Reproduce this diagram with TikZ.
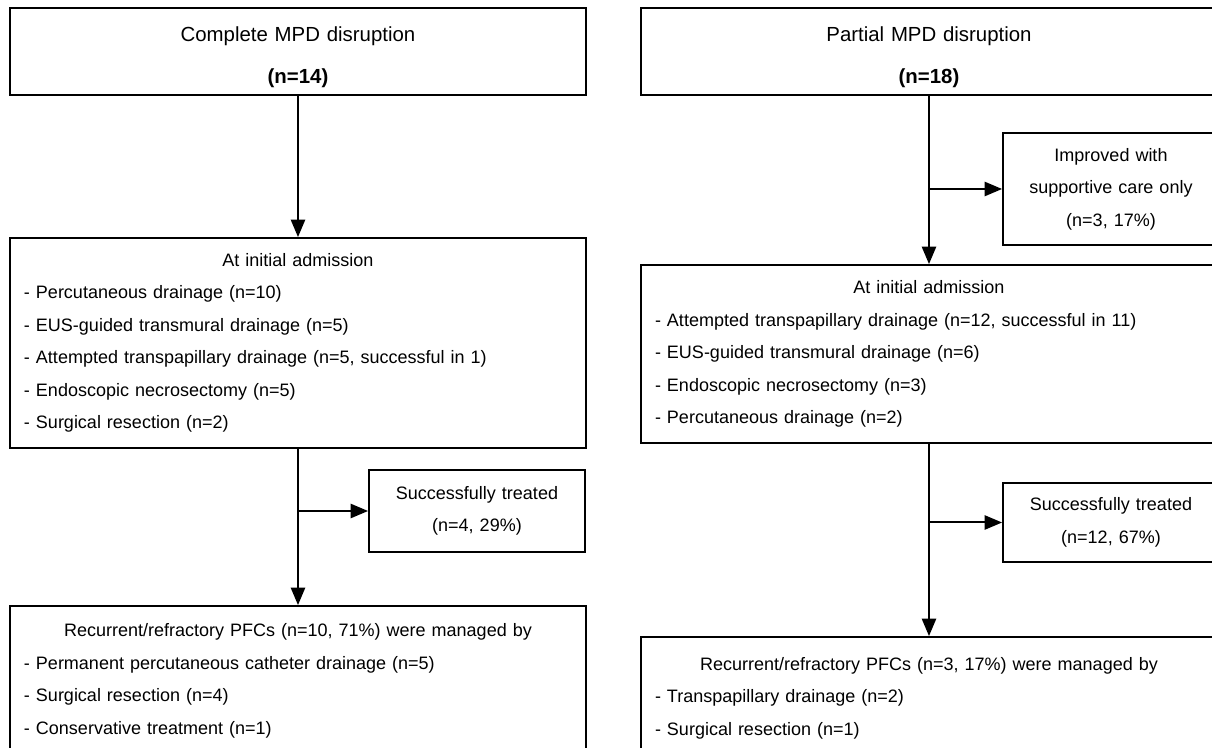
\documentclass[tikz,border=0pt]{standalone}
\usepackage{fontspec}
\setmainfont{Liberation Sans}[WordSpace=0.6]
\usetikzlibrary{arrows,positioning}

\newcommand{\boxhead}[1]{\makebox[\hsize][c]{#1}}

\begin{document}
\begin{tikzpicture}[x=0.5pt,y=-0.5pt,
	every node/.style={font=\fontsize{9}{16.25}\selectfont},
	box/.style={draw,line width=1pt,anchor=north west,inner xsep=7pt,inner ysep=0pt},
	bigbox/.style={box,minimum width=288pt,text width=274pt,align=left},
	titlebox/.style={bigbox,minimum height=43.5pt,align=center,font=\fontsize{10.2}{16}\selectfont},
	smallbox/.style={box,minimum width=108pt,text width=94pt,align=center},
	flow/.style={line width=1pt,-triangle 45}]

	\useasboundingbox (0,0) rectangle (1212,748);
	\clip (0,0) rectangle (1212,748);

	% complete disruption
	\node[titlebox] (cmpl) at (9,7)
	{\rule{0pt}{13pt}Complete MPD disruption\\[5pt]\textbf{(n=14)}};
	\node[bigbox,minimum height=105pt] (cmplAdm) at (9,237)
	{\boxhead{At initial admission}\\
		- Percutaneous drainage (n=10)\\
		- EUS-guided transmural drainage (n=5)\\
		- Attempted transpapillary drainage (n=5, successful in 1)\\
		- Endoscopic necrosectomy (n=5)\\
		- Surgical resection (n=2)};
	\node[smallbox,minimum height=41pt] (cmplOk) at (368,469)
	{Successfully treated\\(n=4, 29\%)};
	\node[bigbox,minimum height=75pt] (cmplRec) at (9,605)
	{\boxhead{Recurrent/refractory PFCs (n=10, 71\%) were managed by}\\
		- Permanent percutaneous catheter drainage (n=5)\\
		- Surgical resection (n=4)\\
		- Conservative treatment (n=1)};

	\draw[flow] (cmpl.south) -- (cmplAdm.north);
	\draw[flow] (cmplAdm.south) -- (cmplRec.north);
	\draw[flow] (cmplAdm.south |- cmplOk.west) -- (cmplOk.west);

	% partial disruption
	\node[titlebox] (part) at (640,7)
	{\rule{0pt}{13pt}Partial MPD disruption\\[5pt]\textbf{(n=18)}};
	\node[smallbox,minimum height=56pt] (partSup) at (1002,132)
	{Improved with\\supportive care only\\(n=3, 17\%)};
	\node[bigbox,minimum height=89pt] (partAdm) at (640,264)
	{\boxhead{At initial admission}\\
		- Attempted transpapillary drainage (n=12, successful in 11)\\
		- EUS-guided transmural drainage (n=6)\\
		- Endoscopic necrosectomy (n=3)\\
		- Percutaneous drainage (n=2)};
	\node[smallbox,minimum height=39.5pt] (partOk) at (1002,482)
	{Successfully treated\\(n=12, 67\%)};
	\node[bigbox,minimum height=61pt] (partRec) at (640,636)
	{\boxhead{Recurrent/refractory PFCs (n=3, 17\%) were managed by}\\
		- Transpapillary drainage (n=2)\\
		- Surgical resection (n=1)};

	\draw[flow] (part.south) -- (partAdm.north);
	\draw[flow] (part.south |- partSup.west) -- (partSup.west);
	\draw[flow] (partAdm.south) -- (partRec.north);
	\draw[flow] (partAdm.south |- partOk.west) -- (partOk.west);
\end{tikzpicture}
\end{document}
